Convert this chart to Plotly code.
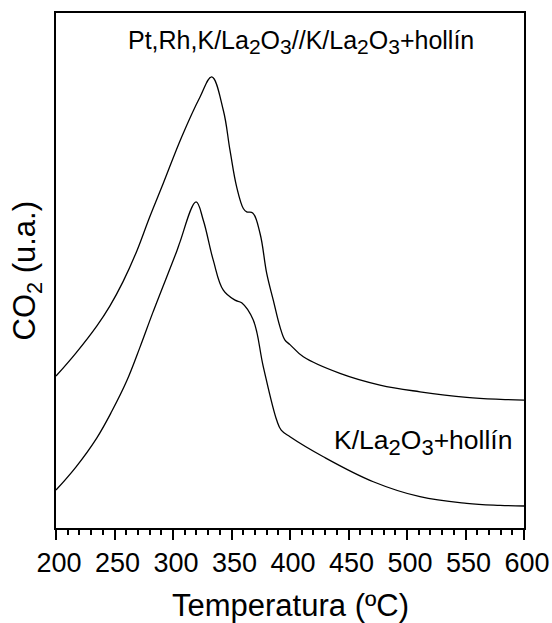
import plotly.graph_objects as go

# Temperature (ºC) and CO2 signal (arbitrary units)
temp_ptrh = [200, 217, 234.8, 246, 257.3, 269, 280, 291.7, 307.4, 323.1, 333.1, 343, 348.7, 354.4,
             360.1, 363, 368.1, 374.4, 380.1, 385.7, 391.5, 395.7, 400, 411.4, 442.7, 476.9,
             511.1, 551, 580, 600]
co2_ptrh = [152, 175, 202, 222, 246.5, 277, 311, 345, 391.3, 431.3, 451.3, 418, 378, 341.3,
            319.7, 316.3, 315.3, 294.7, 254.7, 228, 201, 188, 183.5, 171.3, 154.7, 143,
            136.3, 130.7, 128.7, 128]

temp_k = [200, 217, 234.8, 247.8, 260.4, 271.8, 282.9, 303.2, 306, 319.7, 325.9, 334.4, 343,
          353, 358.7, 368.6, 377.2, 388.6, 392.5, 400, 428.5, 471.2, 511.1, 551, 579.5, 600]
co2_k = [38, 61, 90, 117, 147, 181, 216, 277, 286.3, 326.3, 308, 268, 238,
         228, 225.3, 208, 161.3, 108, 98, 91.3, 71.3, 46.3, 31.3, 24.7, 22.7, 22]

x_ticks = [200, 250, 300, 350, 400, 450, 500, 550, 600]


def sub(s, size):
    return '<sub><span style="font-size:%dpx">%s</span></sub>' % (size, s)


label_ptrh = ("Pt,Rh,K/La" + sub("2", 21) + "O" + sub("3", 21) + "//K/La" + sub("2", 21)
              + "O" + sub("3", 21) + "+hollín")
label_k = "K/La" + sub("2", 22) + "O" + sub("3", 22) + "+hollín"
x_title = "Temperatura (ºC)"
y_title = "CO<sub>2</sub> (u.a.)"

FONT = "Arial, Liberation Sans, sans-serif"

fig = go.Figure()
for t, c in [(temp_ptrh, co2_ptrh), (temp_k, co2_k)]:
    fig.add_trace(go.Scatter(x=t, y=c, mode="lines",
                             line=dict(color="black", width=1.3, shape="spline", smoothing=1.1),
                             showlegend=False, hoverinfo="skip"))

fig.update_layout(
    width=552, height=623,
    margin=dict(l=56, r=28, t=13, b=95, autoexpand=False),
    paper_bgcolor="white", plot_bgcolor="white",
    font=dict(family=FONT, color="black"),
    xaxis=dict(range=[200, 600], tickvals=x_ticks, ticks="outside", ticklen=10, tickwidth=1.8,
               tickcolor="black", showline=True, linewidth=2, linecolor="black", mirror=True,
               showgrid=False, zeroline=False, tickfont=dict(size=27, family=FONT),
               automargin=False, ticklabelshift=3,
               minor=dict(dtick=10, ticks="outside", ticklen=5, tickwidth=1.5, tickcolor="black",
                          showgrid=False)),
    yaxis=dict(range=[0, 515.3], showticklabels=False, ticks="", showline=True, linewidth=2,
               linecolor="black", mirror=True, showgrid=False, zeroline=False, automargin=False),
    annotations=[
        dict(text=label_ptrh, x=409.5, y=486, xref="x", yref="y", showarrow=False,
             font=dict(size=25, family=FONT)),
        dict(text=label_k, x=513.7, y=86, xref="x", yref="y", showarrow=False,
             font=dict(size=26.5, family=FONT)),
        dict(text=x_title, x=0.5, y=-0.15, xref="paper", yref="paper", showarrow=False,
             yanchor="middle", font=dict(size=31, family=FONT)),
        dict(text=y_title, x=-0.062, y=0.5, xref="paper", yref="paper", showarrow=False,
             textangle=-90, xanchor="center", font=dict(size=31, family=FONT)),
    ],
)

fig.write_html("out.html")
